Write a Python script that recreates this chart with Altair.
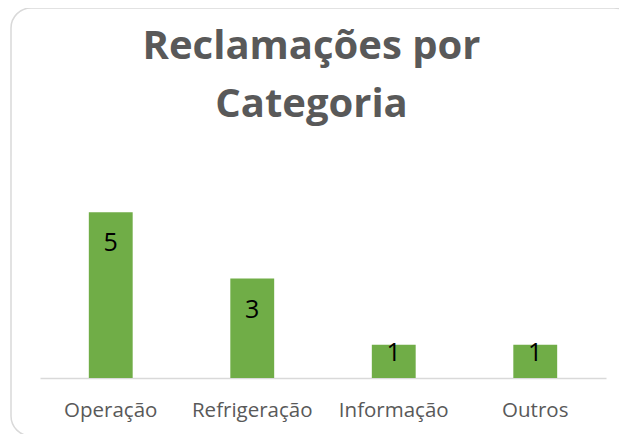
import altair as alt
import pandas as pd

categorias = ["Operação", "Refrigeração", "Informação", "Outros"]
reclamacoes = [5, 3, 1, 1]
titulo = ["Reclamações por", "Categoria"]

df = pd.DataFrame({"categoria": categorias, "valor": reclamacoes})

x_enc = alt.X(
    "categoria:N",
    sort=categorias,
    title=None,
    scale=alt.Scale(range=[29, 595], paddingInner=0.69, paddingOuter=0.345),
    axis=alt.Axis(
        labelAngle=0,
        labelFont="Open Sans",
        labelFontSize=20.5,
        labelColor="#595959",
        labelPadding=22,
        ticks=False,
        domainColor="#D9D9D9",
        domainWidth=1.5,
        offset=-58,
        grid=False,
    ),
)
y_enc = alt.Y(
    "valor:Q",
    scale=alt.Scale(domain=[0, 6], range=[370, 171]),
    axis=None,
)

base = alt.Chart(df)

bars = base.mark_bar(color="#70AD47").encode(x=x_enc, y=y_enc)

labels_big = base.transform_filter("datum.valor >= 2").mark_text(
    baseline="top", dy=19, font="Open Sans", fontSize=25, color="#000000"
).encode(x=x_enc, y=y_enc, text="valor:Q")

labels_small = base.transform_filter("datum.valor < 2").mark_text(
    baseline="top", dy=-4, font="Open Sans", fontSize=25, color="#000000"
).encode(x=x_enc, y=y_enc, text="valor:Q")

chart = alt.layer(bars, labels_big, labels_small).properties(
    width=623,
    height=428,
    autosize=alt.AutoSizeParams(type="none"),
    padding={"left": 3, "top": 0, "right": -15, "bottom": 0},
    view=alt.ViewBackground(
        stroke="#D9D9D9", strokeWidth=1.5, cornerRadius=20, fill="white"
    ),
    title=alt.TitleParams(
        text=titulo,
        font="Open Sans",
        fontSize=40,
        fontWeight="bold",
        color="#595959",
        lineHeight=58,
        anchor="middle",
        offset=-117,
        dx=-11,
    ),
).configure(background="white")

chart.save("out.html", embed_options={"renderer": "svg", "actions": False})
